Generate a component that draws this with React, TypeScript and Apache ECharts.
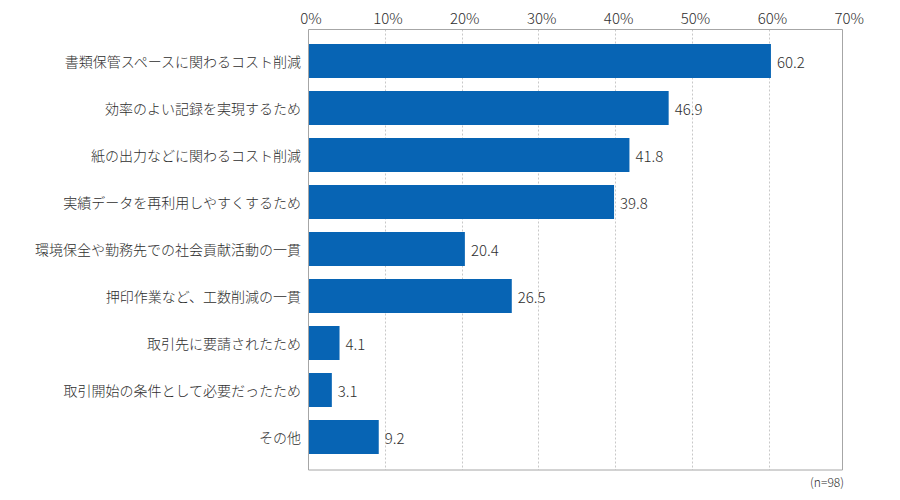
import React, { useEffect, useRef } from "react";
import * as echarts from "echarts";

const categories = [
  "書類保管スペースに関わるコスト削減",
  "効率のよい記録を実現するため",
  "紙の出力などに関わるコスト削減",
  "実績データを再利用しやすくするため",
  "環境保全や勤務先での社会貢献活動の一貫",
  "押印作業など、工数削減の一貫",
  "取引先に要請されたため",
  "取引開始の条件として必要だったため",
  "その他",
];
const values = [60.2, 46.9, 41.8, 39.8, 20.4, 26.5, 4.1, 3.1, 9.2];
const axisMax = 70;
const axisInterval = 10;
const note = "(n=98)";

const FONT = '"Noto Sans CJK JP", "Noto Sans", sans-serif';
const TEXT = "#2e2e2e";

export default function App() {
  const ref = useRef<HTMLDivElement>(null);
  useEffect(() => {
    if (!ref.current) return;
    const chart = echarts.init(ref.current, undefined, { renderer: "svg" });
    chart.setOption({
      animation: false,
      backgroundColor: "#ffffff",
      textStyle: { fontFamily: FONT },
      grid: [
        { left: 308, right: 53.7, top: 37.5, bottom: 39.5 },
        { left: 308, right: 53.7, top: 29.5, bottom: 30 },
      ],
      xAxis: [
        {
          gridIndex: 0,
          type: "value",
          min: 0,
          max: axisMax,
          interval: axisInterval,
          show: false,
        },
        {
          gridIndex: 1,
          type: "value",
          position: "top",
          min: 0,
          max: axisMax,
          interval: axisInterval,
          axisLine: { show: false },
          axisTick: { show: false },
          axisLabel: {
            formatter: "{value}%",
            color: TEXT,
            fontSize: 15,
            fontWeight: 300,
            fontFamily: FONT,
            margin: 5,
            padding: [0, 0, 0, 6],
          },
          splitLine: {
            show: true,
            showMinLine: false,
            showMaxLine: false,
            lineStyle: { color: "#c8c8c8", type: [2, 2], width: 1 },
          },
        },
      ],
      yAxis: [
        {
          gridIndex: 0,
          type: "category",
          data: categories,
          inverse: true,
          axisLine: { show: false },
          axisTick: { show: false },
          axisLabel: { color: TEXT, fontSize: 14, fontWeight: 300, fontFamily: FONT, margin: 7 },
        },
        {
          gridIndex: 1,
          type: "value",
          min: 0,
          max: 1,
          show: false,
        },
      ],
      series: [
        {
          type: "bar",
          xAxisIndex: 0,
          yAxisIndex: 0,
          data: values,
          barWidth: 34,
          itemStyle: { color: "#0764B4" },
          label: {
            show: true,
            position: "right",
            distance: 6,
            color: TEXT,
            fontSize: 15,
            fontWeight: 300,
            fontFamily: FONT,
            formatter: (p: any) => p.value.toFixed(1),
          },
          z: 3,
        },
      ],
      graphic: [
        {
          type: "rect",
          shape: { x: 308.5, y: 29.5, width: 534, height: 440.5 },
          style: { fill: "none", stroke: "#a6a6a6", lineWidth: 1 },
          z: 10,
          silent: true,
        },
        {
          type: "text",
          right: 56,
          top: 475,
          style: { text: note, fill: TEXT, fontSize: 12, fontWeight: 300, fontFamily: FONT },
        },
      ],
    });
    return () => chart.dispose();
  }, []);
  return <div ref={ref} style={{ width: 900, height: 500, marginLeft: -8, marginTop: -8 }} />;
}
